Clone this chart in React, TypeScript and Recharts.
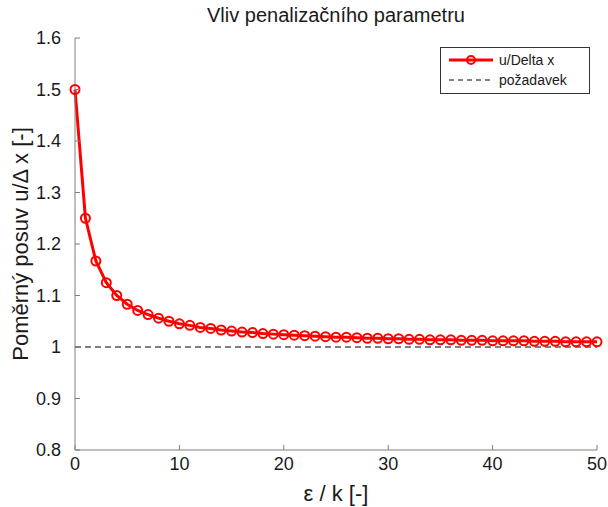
import { LineChart, Line, XAxis, YAxis } from 'recharts';

// epsilon / k
const epsK = [
  0, 1, 2, 3, 4, 5, 6, 7, 8, 9, 10, 11, 12, 13, 14, 15, 16, 17, 18, 19, 20,
  21, 22, 23, 24, 25, 26, 27, 28, 29, 30, 31, 32, 33, 34, 35, 36, 37, 38, 39, 40,
  41, 42, 43, 44, 45, 46, 47, 48, 49, 50,
];

// u / Delta x
const ratio = [
  1.5, 1.25, 1.167, 1.125, 1.1, 1.083, 1.071, 1.063, 1.056, 1.05, 1.045,
  1.042, 1.038, 1.036, 1.033, 1.031, 1.029, 1.028, 1.026, 1.025, 1.024,
  1.023, 1.022, 1.021, 1.02, 1.019, 1.019, 1.018, 1.017, 1.017, 1.016,
  1.016, 1.015, 1.015, 1.014, 1.014, 1.014, 1.013, 1.013, 1.013, 1.012,
  1.012, 1.012, 1.012, 1.011, 1.011, 1.011, 1.01, 1.01, 1.01, 1.01,
];

// požadavek (required value)
const required = [1, 1];
const requiredX = [0, 50];

const xTicks = [0, 10, 20, 30, 40, 50];
const yTicks = [0.8, 0.9, 1.0, 1.1, 1.2, 1.3, 1.4, 1.5, 1.6];

const FONT = '"Liberation Sans", Arial, sans-serif';
const AXIS = '#7f7f7f';
const TXT = '#1a1a1a';

const data = epsK.map((x, i) => ({
  x,
  u: ratio[i],
  req: requiredX.includes(x) ? required[requiredX.indexOf(x)] : undefined,
}));

function XTick({ x, y, payload }: any) {
  return (
    <g>
      <line x1={x} y1={y} x2={x} y2={y - 5} stroke={AXIS} strokeWidth={1} />
      <text x={x} y={y + 20} textAnchor="middle" fontSize={18} fill={TXT} fontFamily={FONT}>
        {payload.value}
      </text>
    </g>
  );
}

function YTick({ x, y, payload }: any) {
  const label = Number(Number(payload.value).toFixed(1)).toString();
  return (
    <g>
      <line x1={x} y1={y} x2={x + 5} y2={y} stroke={AXIS} strokeWidth={1} />
      <text x={x - 14} y={y + 6} textAnchor="end" fontSize={18} fill={TXT} fontFamily={FONT}>
        {label}
      </text>
    </g>
  );
}

function LegendBox() {
  return (
    <div
      style={{
        position: 'absolute',
        top: 47,
        left: 440,
        border: '1px solid #333',
        background: '#fff',
        width: 148,
        padding: '2px 0 3px 0',
        fontFamily: FONT,
        fontSize: 14,
        color: TXT,
        lineHeight: '20px',
      }}
    >
      <div style={{ display: 'flex', alignItems: 'center' }}>
        <svg width={58} height={20}>
          <line x1={8} y1={10} x2={52} y2={10} stroke="#ff0000" strokeWidth={3} />
          <circle cx={30} cy={10} r={4} stroke="#ff0000" strokeWidth={2} fill="none" />
        </svg>
        <span>u/Delta x</span>
      </div>
      <div style={{ display: 'flex', alignItems: 'center' }}>
        <svg width={58} height={20}>
          <line x1={8} y1={10} x2={52} y2={10} stroke="#000" strokeWidth={1} strokeDasharray="5 4" />
        </svg>
        <span>požadavek</span>
      </div>
    </div>
  );
}

export default function App() {
  return (
    <div style={{ position: 'absolute', left: 0, top: 0, width: 608, height: 507, background: '#fff' }}>
      <div
        style={{
          position: 'absolute',
          top: 4,
          left: 75,
          width: 522,
          textAlign: 'center',
          fontFamily: FONT,
          fontSize: 20,
          color: TXT,
        }}
      >
        Vliv penalizačního parametru
      </div>
      <LineChart
        width={608}
        height={507}
        data={data}
        margin={{ top: 38, right: 11, bottom: 0, left: 0 }}
      >
        <XAxis
          dataKey="x"
          type="number"
          domain={[0, 50]}
          ticks={xTicks}
          height={57}
          tickSize={0}
          tickMargin={0}
          tickLine={false}
          tick={<XTick />}
          stroke={AXIS}
          label={{
            value: 'ε / k [-]',
            position: 'insideBottom',
            offset: 6,
            fontSize: 22,
            fill: TXT,
            fontFamily: FONT,
          }}
        />
        <YAxis
          type="number"
          domain={[0.8, 1.6]}
          ticks={yTicks}
          width={75}
          tickSize={0}
          tickMargin={0}
          tickLine={false}
          tick={<YTick />}
          stroke={AXIS}
          allowDataOverflow
          label={{
            value: 'Poměrný posuv u/Δ x [-]',
            angle: -90,
            position: 'insideLeft',
            offset: 20,
            style: { textAnchor: 'middle' },
            fontSize: 22,
            fill: TXT,
            fontFamily: FONT,
          }}
        />
        <Line
          dataKey="req"
          stroke="#000"
          strokeWidth={1}
          strokeDasharray="6 4"
          dot={false}
          connectNulls
          isAnimationActive={false}
        />
        <Line
          dataKey="u"
          stroke="#ff0000"
          strokeWidth={3}
          dot={{ r: 4.5, stroke: '#ff0000', strokeWidth: 2, fill: 'none' }}
          isAnimationActive={false}
        />
      </LineChart>
      <LegendBox />
    </div>
  );
}
